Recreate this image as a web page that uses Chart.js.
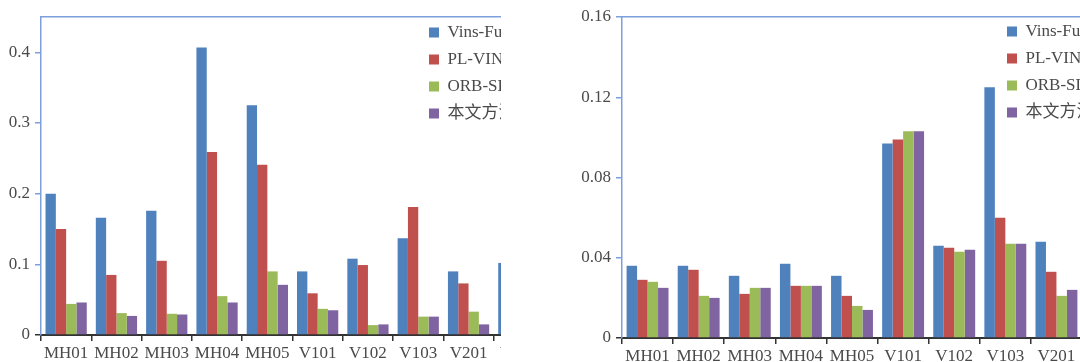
<!DOCTYPE html>
<html>
<head>
<meta charset="utf-8">
<script src="https://cdn.jsdelivr.net/npm/chart.js@4.4.1/dist/chart.umd.min.js"></script>
<style>
  html, body { margin: 0; padding: 0; background: #fff; overflow: hidden; }
  body { width: 1080px; height: 362px; position: relative; }
  .clip { position: absolute; top: 0; height: 362px; overflow: hidden; }
  #leftBox { left: 0; width: 501px; }
  #rightBox { left: 540px; width: 540px; }
</style>
</head>
<body>
<div class="clip" id="leftBox"><canvas id="leftChart" width="560" height="362"></canvas></div>
<div class="clip" id="rightBox"><canvas id="rightChart" width="560" height="362"></canvas></div>
<script>
// legend names
const methods = ['Vins-Fusion', 'PL-VINS', 'ORB-SLAM3', '本文方法'];

// left chart
const leftLabels = ['MH01', 'MH02', 'MH03', 'MH04', 'MH05', 'V101', 'V102', 'V103', 'V201', 'V202'];
const leftVins = [0.200, 0.166, 0.176, 0.407, 0.325, 0.090, 0.108, 0.137, 0.090, 0.102];
const leftPl   = [0.150, 0.085, 0.105, 0.259, 0.241, 0.059, 0.099, 0.181, 0.073, null];
const leftOrb  = [0.044, 0.031, 0.030, 0.055, 0.090, 0.037, 0.014, 0.026, 0.033, null];
const leftOurs = [0.046, 0.027, 0.029, 0.046, 0.071, 0.035, 0.015, 0.026, 0.015, null];
const leftTicks = [0, 0.1, 0.2, 0.3, 0.4];

// right chart
const rightLabels = ['MH01', 'MH02', 'MH03', 'MH04', 'MH05', 'V101', 'V102', 'V103', 'V201'];
const rightVins = [0.036, 0.036, 0.031, 0.037, 0.031, 0.097, 0.046, 0.125, 0.048];
const rightPl   = [0.029, 0.034, 0.022, 0.026, 0.021, 0.099, 0.045, 0.060, 0.033];
const rightOrb  = [0.028, 0.021, 0.025, 0.026, 0.016, 0.103, 0.043, 0.047, 0.021];
const rightOurs = [0.025, 0.020, 0.025, 0.026, 0.014, 0.103, 0.044, 0.047, 0.024];
const rightTicks = [0, 0.04, 0.08, 0.12, 0.16];

const colors = ['#4f81bd', '#c0504d', '#9bbb59', '#8064a2'];
const axisBlue = '#7d9fdc';
const textColor = '#4a4a4a';
const fontFamily = "'Liberation Serif', 'Noto Sans CJK SC', serif";

// moves the legend box to a fixed spot inside the plot
const legendMover = {
    id: 'legendMover',
    afterLayout(chart, args, opts) {
        let lg = chart.legend;
        if (!lg) return;
        lg.left = opts.x;
        lg.top = opts.y;
        lg.right = opts.x + lg.width;
        lg.bottom = opts.y + lg.height;
    }
};

function makeChart(id, labels, series, yMax, yTicks, axisWidth, xHeight, padRight, legendX, legendY)
{
    let datasets = series.map(function(values, i) {
        return {
            label: methods[i],
            data: values,
            backgroundColor: colors[i],
            borderWidth: 0,
            categoryPercentage: 0.82,
            barPercentage: 1.0
        };
    });

    return new Chart(document.getElementById(id), {
        type: 'bar',
        data: { labels: labels, datasets: datasets },
        plugins: [legendMover],
        options: {
            responsive: false,
            animation: false,
            devicePixelRatio: 1,
            layout: { padding: { top: 17, right: padRight, left: 0, bottom: 0 } },
            plugins: {
                tooltip: { enabled: false },
                legendMover: { x: legendX, y: legendY },
                legend: {
                    position: 'chartArea',
                    align: 'start',
                    labels: {
                        boxWidth: 10,
                        boxHeight: 10,
                        padding: 10,
                        color: textColor,
                        font: { family: fontFamily, size: 17 }
                    }
                }
            },
            scales: {
                x: {
                    offset: true,
                    grid: { display: true, drawOnChartArea: false, drawTicks: true, tickLength: 6, color: '#333', lineWidth: 1.5, offset: true },
                    border: { color: '#333', width: 2 },
                    ticks: { color: textColor, font: { family: fontFamily, size: 17 }, padding: 2, maxRotation: 0, autoSkip: false },
                    afterFit: function(s) { s.height = xHeight; }
                },
                x2: {
                    type: 'category',
                    position: 'top',
                    grid: { display: false },
                    ticks: { display: false },
                    border: { color: axisBlue, width: 1.5 },
                    afterFit: function(s) { s.height = 0; }
                },
                y: {
                    min: 0,
                    max: yMax,
                    grid: {
                        drawOnChartArea: false,
                        tickLength: 6,
                        lineWidth: 1.5,
                        color: function(ctx) { return ctx.tick && ctx.tick.value === 0 ? '#333' : axisBlue; }
                    },
                    border: { color: axisBlue, width: 1.5 },
                    ticks: { color: textColor, font: { family: fontFamily, size: 17 }, padding: 5 },
                    afterBuildTicks: function(s) { s.ticks = yTicks.map(function(v) { return { value: v }; }); },
                    afterFit: function(s) { s.width = axisWidth; }
                }
            }
        }
    });
}

makeChart('leftChart', leftLabels, [leftVins, leftPl, leftOrb, leftOurs], 0.45, leftTicks, 41, 27, 16, 419, 14);
makeChart('rightChart', rightLabels, [rightVins, rightPl, rightOrb, rightOurs], 0.16, rightTicks, 82, 24, 18, 457, 13);
</script>
</body>
</html>
